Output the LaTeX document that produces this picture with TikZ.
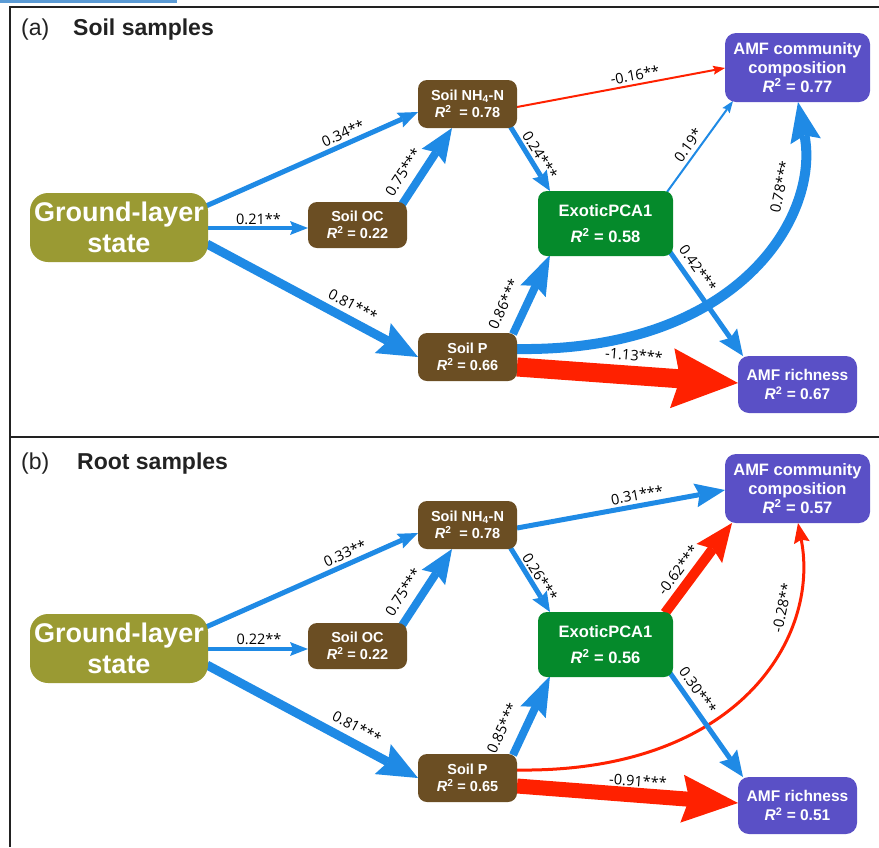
\documentclass[tikz,border=0pt]{standalone}
\usepackage{fontspec}
\setmainfont{Liberation Sans}
\newfontfamily\lab{Open Sans}
\usetikzlibrary{arrows.meta,calc}
\definecolor{gOlive}{HTML}{9A9A33}
\definecolor{gBrown}{HTML}{6B4E23}
\definecolor{gGreen}{HTML}{058A2B}
\definecolor{gPurple}{HTML}{5A50C6}
\definecolor{gBlue}{HTML}{1F8AE5}
\definecolor{gRed}{HTML}{FF2100}
\definecolor{barBlue}{HTML}{5B9BD5}
\definecolor{ink}{HTML}{222222}
\pgfdeclarelayer{background}
\pgfsetlayers{background,main}
\newcommand{\Rsq}{\textit{R}\textsuperscript{2}}
\begin{document}
\begin{tikzpicture}[x=1pt,y=-1pt,
  box/.style={rounded corners=9pt, text=white, inner sep=0pt, align=center,
              font=\bfseries\fontsize{14.5}{17}\selectfont},
  glbox/.style={box, fill=gOlive, rounded corners=18pt, minimum width=178pt, minimum height=69pt,
              font=\bfseries\fontsize{27}{31}\selectfont},
  ocbox/.style={box, fill=gBrown, minimum width=99pt, minimum height=46pt},
  soilbox/.style={box, fill=gBrown, minimum width=99pt, minimum height=48pt},
  exbox/.style={box, fill=gGreen, minimum width=135pt, minimum height=65pt,
              font=\bfseries\fontsize{16.5}{26}\selectfont},
  acbox/.style={box, fill=gPurple, rounded corners=11pt, minimum width=145pt, minimum height=69pt,
              font=\bfseries\fontsize{16.5}{19.3}\selectfont},
  arbox/.style={box, fill=gPurple, rounded corners=11pt, minimum width=119pt, minimum height=57pt,
              font=\bfseries\fontsize{15.5}{19}\selectfont},
  lbl/.style={font=\lab\fontsize{14.5}{14.5}\selectfont, inner sep=0pt, text=black, anchor=center},
  ed/.style n args={4}{line width=#1pt, -{Stealth[length=#2pt, width=#3pt, inset=#4pt, line width=0pt]}},
  bl/.style={draw=gBlue, fill=gBlue},
  rd/.style={draw=gRed, fill=gRed},
  frame/.style={draw=ink, line width=2pt},
  ttl/.style={anchor=base west, inner sep=0pt, text=ink, font=\fontsize{23}{23}\selectfont},
  ttlb/.style={ttl, font=\bfseries\fontsize{23}{23}\selectfont},
]
\useasboundingbox (0,0) rectangle (879,847);
\fill[barBlue] (0,0) rectangle (177,2.5);
\draw[frame] (879,7) -- (10,7) -- (10,847);
\draw[frame] (10,437) -- (879,437);

% ---------- titles ----------
\node[ttl] (ta) at (21,35) {(a)};
\node[ttlb] (tah) at (73,35) {Soil samples};
\node[ttl] (tb) at (21,469) {(b)};
\node[ttlb] (tbh) at (77,469) {Root samples};

% ---------- panel (a) nodes ----------
\node[glbox] (agl) at (119,227.5) {Ground-layer\\state};
\node[ocbox] (aoc) at (357.5,225) {Soil OC\\\Rsq{} = 0.22};
\node[soilbox] (anh) at (467.5,104) {Soil NH\textsubscript{4}-N\\\Rsq\hspace{0.55em}= 0.78};
\node[exbox] (aex) at (605.5,223.5) {ExoticPCA1\\\Rsq{} = 0.58};
\node[acbox] (aac) at (797.5,67.5) {AMF community\\composition\\\Rsq{} = 0.77};
\node[soilbox] (asp) at (467.5,357) {Soil P\\\Rsq{} = 0.66};
\node[arbox] (aar) at (797.5,384.5) {AMF richness\\\Rsq{} = 0.67};

% ---------- panel (b) nodes ----------
\begin{scope}[shift={(0,421)}]
\node[glbox] (bgl) at (119,227.5) {Ground-layer\\state};
\node[ocbox] (boc) at (357.5,225) {Soil OC\\\Rsq{} = 0.22};
\node[soilbox] (bnh) at (467.5,104) {Soil NH\textsubscript{4}-N\\\Rsq\hspace{0.55em}= 0.78};
\node[exbox] (bex) at (605.5,223.5) {ExoticPCA1\\\Rsq{} = 0.56};
\node[acbox] (bac) at (797.5,67.5) {AMF community\\composition\\\Rsq{} = 0.57};
\node[soilbox] (bsp) at (467.5,357) {Soil P\\\Rsq{} = 0.65};
\node[arbox] (bar) at (797.5,384.5) {AMF richness\\\Rsq{} = 0.51};
\end{scope}

\begin{pgfonlayer}{background}
% ---------- panel (a) edges ----------
\draw[bl, ed={5}{20}{16}{3}] ($(agl)+(87,-21.5)$) -- ($(anh)+(-49.5,8)$);
\draw[bl, ed={3.5}{18}{14}{3}] ($(agl)+(89,0.5)$) -- ($(aoc)+(-49.5,3)$);
\draw[bl, ed={9}{40}{34}{6}] ($(agl)+(88,16.5)$) -- ($(asp)+(-49.5,0)$);
\draw[bl, ed={8}{34}{28}{5}] ($(aoc)+(43.5,-19)$) -- ($(anh)+(-15.5,24)$);
\draw[bl, ed={5}{20}{17}{3}] ($(anh)+(42.5,22)$) -- ($(aex)+(-55.5,-32.5)$);
\draw[rd, ed={2}{12}{9}{2}] ($(anh)+(49.5,3)$) -- ($(aac)+(-72.5,0.5)$);
\draw[bl, ed={2}{12}{9}{2}] ($(aex)+(61.5,-31.5)$) -- ($(aac)+(-64.5,33.5)$);
\draw[bl, fill=none, ed={10}{40}{31}{6}] ($(asp)+(49.5,-8)$) .. controls ($(asp)+(272.5,-5)$) and ($(aac)+(22.5,147.5)$) .. ($(aac)+(0.5,34.5)$);
\draw[bl, ed={8}{40}{28}{6}] ($(asp)+(45.5,-23)$) -- ($(aex)+(-55.5,31.5)$);
\draw[bl, ed={5}{26}{22}{4}] ($(aex)+(64.5,28.5)$) -- ($(aar)+(-54.5,-28.5)$);
\draw[rd, ed={19}{66}{60}{8}] ($(asp)+(49.5,10)$) -- ($(aar)+(-59.5,-1.5)$);

% ---------- panel (b) edges ----------
\draw[bl, ed={5}{20}{16}{3}] ($(bgl)+(87,-21.5)$) -- ($(bnh)+(-49.5,8)$);
\draw[bl, ed={3.5}{18}{14}{3}] ($(bgl)+(89,0.5)$) -- ($(boc)+(-49.5,3)$);
\draw[bl, ed={9}{40}{34}{6}] ($(bgl)+(88,16.5)$) -- ($(bsp)+(-49.5,0)$);
\draw[bl, ed={8}{34}{28}{5}] ($(boc)+(43.5,-19)$) -- ($(bnh)+(-15.5,24)$);
\draw[bl, ed={5}{20}{17}{3}] ($(bnh)+(42.5,22)$) -- ($(bex)+(-55.5,-32.5)$);
\draw[bl, ed={5}{30}{24}{4}] ($(bnh)+(49.5,3)$) -- ($(bac)+(-72.5,1.5)$);
\draw[rd, ed={10}{38}{32}{6}] ($(bex)+(59.5,-31.5)$) -- ($(bac)+(-65.5,34.5)$);
\draw[rd, fill=none, ed={3}{20}{16}{3}] ($(bsp)+(49.5,-8)$) .. controls ($(bsp)+(272.5,-5)$) and ($(bac)+(22.5,147.5)$) .. ($(bac)+(0.5,34.5)$);
\draw[bl, ed={8}{40}{28}{6}] ($(bsp)+(45.5,-23)$) -- ($(bex)+(-55.5,31.5)$);
\draw[bl, ed={5}{26}{22}{4}] ($(bex)+(64.5,28.5)$) -- ($(bar)+(-54.5,-28.5)$);
\draw[rd, ed={15}{56}{48}{7}] ($(bsp)+(49.5,8)$) -- ($(bar)+(-59.5,-2.5)$);
\end{pgfonlayer}

% ---------- path coefficients (a) ----------
\node[lbl, rotate=23.9] (la1) at (343,133) {0.34**};
\node[lbl] (la2) at (258.5,219) {0.21**};
\node[lbl, rotate=-28.2] (la3) at (353,305) {0.81***};
\node[lbl, rotate=56.8] (la4) at (403,172) {0.75***};
\node[lbl, rotate=-58.4] (la5) at (540,155) {0.24***};
\node[lbl, rotate=10.6] (la6) at (635,75) {-0.16**};
\node[lbl, rotate=54] (la7) at (688,145) {0.19*};
\node[lbl, rotate=78] (la8) at (780,187) {0.78***};
\node[lbl, rotate=64.9] (la9) at (503.5,304) {0.86***};
\node[lbl, rotate=-54.9] (la10) at (698,268) {0.42***};
\node[lbl, rotate=-4.5] (la11) at (634,355) {-1.13***};

% ---------- path coefficients (b) ----------
\begin{scope}[shift={(0,421)}]
\node[lbl, rotate=23.9] (lb1) at (345,132) {0.33**};
\node[lbl] (lb2) at (259,218.5) {0.22**};
\node[lbl, rotate=-28.2] (lb3) at (357,306) {0.81***};
\node[lbl, rotate=56.8] (lb4) at (403,171) {0.75***};
\node[lbl, rotate=-58.4] (lb5) at (540,156) {0.26***};
\node[lbl, rotate=10.4] (lb6) at (637,74) {0.31***};
\node[lbl, rotate=53.3] (lb7) at (678,149) {-0.62***};
\node[lbl, rotate=78] (lb8) at (782,187) {-0.28**};
\node[lbl, rotate=64.9] (lb9) at (502,307) {0.85***};
\node[lbl, rotate=-54.9] (lb10) at (698,269) {0.30***};
\node[lbl, rotate=-4] (lb11) at (638,360) {-0.91***};
\end{scope}
\end{tikzpicture}
\end{document}
